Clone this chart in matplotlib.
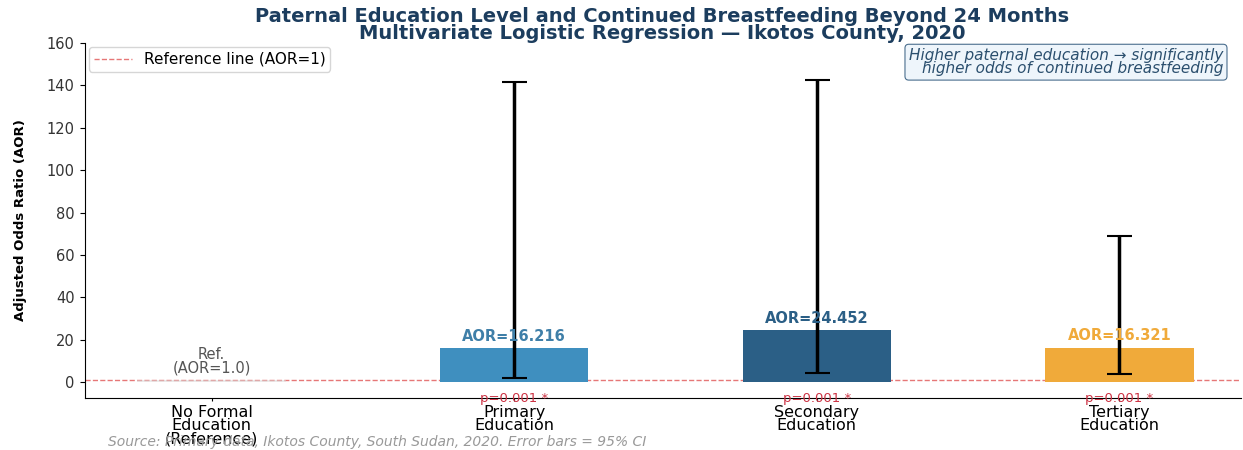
import matplotlib as mpl
mpl.use('Agg')

import matplotlib.pyplot as plt
import numpy as np

categories = ['No Formal\nEducation\n(Reference)', 'Primary\nEducation',
              'Secondary\nEducation', 'Tertiary\nEducation']
aor = [1.0, 16.216, 24.452, 16.321]
ci_low = [1.0, 1.86, 4.2, 3.87]
ci_high = [1.0, 141.4, 142.6, 68.8]
p_labels = ['', 'p=0.001 *', 'p=0.001 *', 'p=0.001 *']
colors = ['#d9d9d9', '#3f8fbf', '#2b5f86', '#f0aa3a']
label_colors = ['#555555', '#3f7fa8', '#2b5f86', '#f0aa3a']

x = np.arange(len(categories))

fig, ax = plt.subplots(figsize=(12.43, 4.5), dpi=100)
fig.subplots_adjust(left=0.068, right=0.998, top=0.905, bottom=0.115)

ax.bar(x[1:], aor[1:], width=0.49, color=colors[1:], zorder=2)
ax.bar(x[0], aor[0], width=0.49, color=colors[0], alpha=0.5, zorder=2)

# 95% CI whiskers for the non-reference groups
err_low = [aor[i] - ci_low[i] for i in range(1, 4)]
err_high = [ci_high[i] - aor[i] for i in range(1, 4)]
ax.errorbar(x[1:], aor[1:], yerr=[err_low, err_high], fmt='none',
            ecolor='black', elinewidth=2.5, capsize=9, capthick=1.5, zorder=3)

ax.axhline(1, color='#e05555', linestyle='--', linewidth=1, alpha=0.8,
           label='Reference line (AOR=1)', zorder=1)

# AOR labels above bars
ax.text(x[0], 3.0, 'Ref.\n(AOR=1.0)', ha='center', va='bottom',
        fontsize=10.5, color='#555555', linespacing=0.95)
for i in range(1, 4):
    ax.text(x[i], aor[i] + 2, f'AOR={aor[i]:.3f}', ha='center', va='bottom',
            fontsize=10.5, fontweight='bold', color=label_colors[i])

# significance under each bar
for i in range(1, 4):
    ax.text(x[i], -7.5, p_labels[i], ha='center', va='center',
            fontsize=9.5, color='#cc3344')

ax.set_xticks(x)
ax.set_xticklabels(categories, fontsize=11.5, linespacing=0.85)
ax.tick_params(axis='x', length=2, pad=3)
ax.tick_params(axis='y', labelsize=10.5, labelcolor='#333333')
ax.set_xlim(-0.42, 3.4)
ax.set_ylim(-7.5, 160)
ax.set_yticks(np.arange(0, 161, 20))
ax.set_ylabel('Adjusted Odds Ratio (AOR)', fontsize=9.5, fontweight='bold',
              labelpad=14)

ax.spines['top'].set_visible(False)
ax.spines['right'].set_visible(False)

ax.set_title('Paternal Education Level and Continued Breastfeeding Beyond 24 Months\n'
             'Multivariate Logistic Regression \u2014 Ikotos County, 2020',
             fontsize=14, fontweight='bold', color='#1c3d5e', pad=3,
             linespacing=0.85)

ax.legend(loc='upper left', fontsize=11, frameon=True, handlelength=2.5,
          borderaxespad=0.3, borderpad=0.3)

ax.text(0.985, 0.985, 'Higher paternal education \u2192 significantly\n'
        'higher odds of continued breastfeeding',
        transform=ax.transAxes, ha='right', va='top', fontsize=11,
        style='italic', color='#2b4f6e', linespacing=0.85,
        bbox=dict(boxstyle='round,pad=0.25', facecolor='#eef5fb',
                  edgecolor='#4a6e8e', linewidth=0.8))

fig.text(0.087, 0.008, 'Source: Primary data, Ikotos County, South Sudan, 2020. '
         'Error bars = 95% CI', fontsize=10, style='italic', color='#999999')

fig.savefig('out.png', dpi=100)
